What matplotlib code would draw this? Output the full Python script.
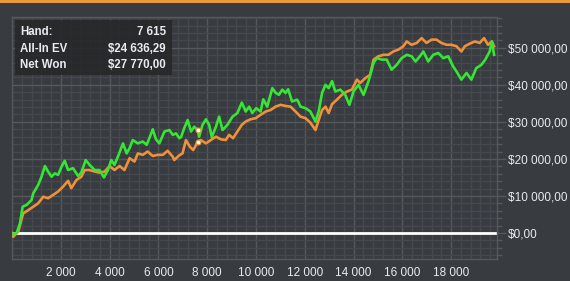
import numpy as np
import matplotlib.pyplot as plt
from matplotlib.ticker import MultipleLocator, FuncFormatter
from matplotlib.patches import Rectangle

#==========
# 1. DATA
#==========
# Net Won (green)
net_hands = [0, 190, 330, 435, 600, 800, 870, 1075, 1210, 1350, 1480, 1620, 1755, 1890,
             2030, 2160, 2300, 2500, 2710, 2840, 3020, 3180, 3390, 3590, 3770, 3930, 4070,
             4200, 4340, 4550, 4700, 4820, 4950, 5160, 5360, 5520, 5630, 5770, 5900, 6040,
             6250, 6450, 6590, 6720, 6860, 6930, 7060, 7200, 7340, 7470, 7615, 7670, 7810,
             7950, 8080, 8190, 8360, 8490, 8630, 8830, 9040, 9240, 9420, 9580, 9720, 9850,
             10010, 10190, 10300, 10460, 10670, 10800, 10940, 11080, 11210, 11320, 11480,
             11690, 11830, 12030, 12230, 12440, 12570, 12710, 12850, 12980, 13120, 13250,
             13460, 13660, 13830, 14000, 14200, 14410, 14610, 14820, 14950, 15160, 15360,
             15560, 15770, 15970, 16180, 16380, 16540, 16720, 16860, 17060, 17270, 17470,
             17680, 17880, 18080, 18220, 18420, 18630, 18830, 19030, 19240, 19400, 19580,
             19670, 19760]
net_won = [-300, 0, 2700, 7100, 7600, 8900, 10700, 13000, 15200, 18100, 16600, 15200, 16100,
           15700, 17900, 19500, 17000, 17500, 15400, 16300, 19700, 18400, 17000, 17000, 15000,
           17000, 19700, 18400, 20600, 24200, 21500, 22900, 25100, 24200, 24700, 23800, 25600,
           28000, 25300, 24200, 27400, 27800, 26500, 26900, 25600, 25900, 28300, 30500, 27400,
           28700, 27770, 26000, 29200, 30700, 29200, 25900, 28700, 31400, 27800, 29200, 31400,
           32400, 35200, 32800, 34100, 32400, 33700, 32800, 36100, 34100, 39100, 37900, 37300,
           38700, 37800, 38800, 35500, 36000, 34100, 33700, 32800, 30100, 32800, 37800, 40000,
           39100, 41000, 38200, 38700, 37300, 34600, 38200, 40000, 37300, 40900, 45900, 47200,
           46800, 46800, 44100, 45400, 47200, 48100, 47700, 46300, 47700, 49000, 46300, 48100,
           48600, 47200, 47700, 45000, 43600, 41400, 43200, 41400, 44500, 45400, 46800, 49000,
           51700, 48100]

# All-In EV (orange)
ev_hands = [0, 50, 260, 400, 460, 670, 870, 1070, 1280, 1480, 1690, 1890, 2090, 2300, 2430,
            2640, 2840, 2980, 3180, 3390, 3590, 3800, 4000, 4200, 4410, 4610, 4820, 5020,
            5160, 5360, 5560, 5770, 5970, 6180, 6380, 6590, 6650, 6860, 6990, 7130, 7290,
            7430, 7615, 7740, 7950, 8150, 8360, 8560, 8760, 8900, 9060, 9240, 9420, 9580,
            9780, 9990, 10190, 10400, 10600, 10800, 11010, 11210, 11420, 11620, 11830, 12030,
            12230, 12440, 12570, 12710, 12850, 12980, 13120, 13320, 13520, 13730, 13930,
            14140, 14270, 14480, 14680, 14820, 15020, 15230, 15430, 15630, 15840, 16040,
            16180, 16380, 16590, 16790, 16990, 17200, 17400, 17600, 17810, 18010, 18220,
            18420, 18560, 18760, 18970, 19170, 19350, 19510, 19670, 19760]
all_in_ev = [0, -1000, 400, 4000, 5300, 6200, 7100, 8000, 9800, 9400, 10300, 11200, 12500,
             14100, 12100, 14300, 15200, 17000, 17000, 16600, 16300, 16600, 18100, 17000,
             18100, 17000, 20200, 19300, 21500, 21100, 22000, 20800, 21100, 21100, 22200,
             20600, 19700, 21000, 21500, 25100, 23300, 22400, 24636, 25100, 24200, 25100,
             26000, 25300, 25100, 26500, 25600, 27400, 29200, 30100, 30700, 31000, 31900,
             32800, 33200, 34100, 34600, 34300, 34100, 32800, 31400, 31000, 29800, 27800,
             30500, 33200, 34100, 32400, 34800, 36000, 37300, 38200, 38700, 41400, 40500,
             41800, 42700, 46800, 47700, 48100, 48100, 49000, 49500, 50400, 51700, 50800,
             51300, 52600, 51300, 52200, 52200, 51300, 50800, 50800, 50400, 49000, 50400,
             51100, 51700, 51300, 52600, 50800, 51700, 50400]

# hover tooltip
hover_hand = 7615
hover_ev = 24636.29
hover_net = 27770.00
tip_labels = ["Hand:", "All-In EV", "Net Won"]
tip_values = ["7 615", "$24 636,29", "$27 770,00"]

x_ticks = list(range(2000, 20000, 2000))
y_ticks = list(range(0, 60000, 10000))

#==========
# 2. STYLE
#==========
bg = '#383b3f'
minor_c = '#45484c'
major_c = '#55585c'
text_c = '#e8ecf0'
green = '#35e635'
orange = '#f0903a'

plt.rcParams['font.family'] = ['Liberation Sans', 'DejaVu Sans']


def money(v, pos=None):
    s = f"{v:,.2f}".replace(",", " ").replace(".", ",")
    return "$" + s


def hands_fmt(v, pos=None):
    return f"{int(v):,}".replace(",", " ")


#==========
# 3. PLOT
#==========
fig = plt.figure(figsize=(5.7, 2.81), dpi=100, facecolor=bg)
ax = fig.add_axes([12 / 570, 22 / 281, 485 / 570, 242 / 281])
ax.set_facecolor(bg)

ax.set_xlim(0, 19880)
ax.set_ylim(-7000, 58300)

ax.xaxis.set_major_locator(MultipleLocator(2000))
ax.xaxis.set_minor_locator(MultipleLocator(400))
ax.yaxis.set_major_locator(MultipleLocator(10000))
ax.yaxis.set_minor_locator(MultipleLocator(2000))

ax.grid(which='minor', color=minor_c, lw=1.0, zorder=0)
ax.grid(which='major', color=major_c, lw=1.0, zorder=0)
ax.set_axisbelow(True)

ax.axhline(0, color='white', lw=2.0, zorder=2)

ax.plot(ev_hands, all_in_ev, color=orange, lw=1.9, zorder=3)
ax.plot(net_hands, net_won, color=green, lw=1.9, zorder=4)

ax.plot([hover_hand, hover_hand], [hover_net, hover_ev], 'o', ms=3.5,
        mfc='white', mec=orange, mew=0.8, zorder=5)

# ticks / labels
ax.set_xticks(x_ticks)
ax.xaxis.set_major_formatter(FuncFormatter(hands_fmt))
ax.set_yticks(y_ticks)
ax.yaxis.set_major_formatter(FuncFormatter(money))
ax.yaxis.tick_right()
ax.tick_params(axis='x', which='both', length=0, pad=6, labelsize=8.5, colors=text_c)
ax.tick_params(axis='y', which='major', length=6.5, width=1, color=major_c,
               pad=1.5, labelsize=8.5, labelcolor=text_c)
ax.tick_params(axis='y', which='minor', length=3.6, width=1, color=major_c)
ax.tick_params(axis='y', which='both', left=False, right=True)

for sp in ax.spines.values():
    sp.set_color(major_c)
    sp.set_linewidth(1.0)

# orange strip at top
fig.patches.append(Rectangle((0, 1 - 2.5 / 281), 1, 2.5 / 281, transform=fig.transFigure,
                             facecolor='#e89a3c', edgecolor='none'))

# tooltip box
fig.patches.append(Rectangle((15 / 570, 1 - 75 / 281), 157 / 570, 55 / 281,
                             transform=fig.transFigure, facecolor='#252628',
                             edgecolor='none', alpha=0.85, zorder=10))
row_y = [32, 49, 65]
for lab, val, yy in zip(tip_labels, tip_values, row_y):
    fig.text(20 / 570, 1 - yy / 281, lab, color=text_c, fontsize=8.3, fontweight='bold',
             va='center', ha='left', zorder=11)
    fig.text(166 / 570, 1 - yy / 281, val, color=text_c, fontsize=8.3, fontweight='bold',
             va='center', ha='right', zorder=11)

fig.savefig('out.png', dpi=100, facecolor=bg)
